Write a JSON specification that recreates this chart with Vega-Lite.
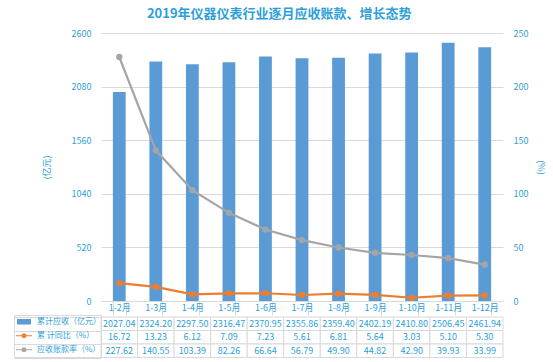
{
  "$schema": "https://vega.github.io/schema/vega-lite/v6.json",
  "padding": {"left": 13, "top": 8, "right": 5, "bottom": 2},
  "title": {"text": "2019年仪器仪表行业逐月应收账款、增长态势", "anchor": "middle", "fontSize": 13, "fontWeight": "bold", "color": "#2E9FD8", "font": "Noto Sans CJK SC", "offset": 8},
  "config": {"view": {"stroke": null}, "font": "Noto Sans CJK SC"},
  "data": {"values": [
    {"m": "1-2月", "ar": 2027.04, "yoy": 16.72, "rate": 227.62},
    {"m": "1-3月", "ar": 2324.20, "yoy": 13.23, "rate": 140.55},
    {"m": "1-4月", "ar": 2297.50, "yoy": 6.12, "rate": 103.39},
    {"m": "1-5月", "ar": 2316.47, "yoy": 7.09, "rate": 82.26},
    {"m": "1-6月", "ar": 2370.95, "yoy": 7.23, "rate": 66.64},
    {"m": "1-7月", "ar": 2355.86, "yoy": 5.61, "rate": 56.79},
    {"m": "1-8月", "ar": 2359.40, "yoy": 6.81, "rate": 49.90},
    {"m": "1-9月", "ar": 2402.19, "yoy": 5.64, "rate": 44.82},
    {"m": "1-10月", "ar": 2410.80, "yoy": 3.03, "rate": 42.90},
    {"m": "1-11月", "ar": 2506.45, "yoy": 5.10, "rate": 39.93},
    {"m": "1-12月", "ar": 2461.94, "yoy": 5.30, "rate": 33.99}
  ]},
  "spacing": 0,
  "resolve": {"scale": {"x": "independent", "y": "independent"}},
  "vconcat": [
    {
      "width": 402,
      "height": 268,
      "encoding": {
        "x": {"field": "m", "type": "nominal", "sort": null, "scale": {"paddingInner": 0.65, "paddingOuter": 0.325},
          "axis": {"title": null, "labelAngle": 0, "labelFontSize": 9, "labelColor": "#2E9FD8", "labelPadding": -12, "labelBaseline": "top",
            "ticks": true, "tickBand": "extent", "tickSize": 14, "tickColor": "#d9d9d9", "domainColor": "#d9d9d9"}}
      },
      "layer": [
        {
          "mark": {"type": "bar"},
          "encoding": {
            "y": {"field": "ar", "type": "quantitative", "scale": {"domain": [0, 2600]},
              "axis": {"values": [0, 520, 1040, 1560, 2080, 2600], "format": "d", "title": "(亿元)", "titleColor": "#2E9FD8", "titleFontSize": 9, "titleFontWeight": "normal", "titlePadding": 20,
                "labelColor": "#2E9FD8", "labelFontSize": 9, "labelPadding": 10, "ticks": false, "domain": false, "grid": true, "gridColor": "#d9d9d9"}},
            "color": {"datum": "ar", "type": "nominal",
              "scale": {"domain": ["ar", "yoy", "rate"], "range": ["#5B9BD5", "#ED7D31", "#A5A5A5"]},
              "legend": {"orient": "none", "legendX": -87, "legendY": 282, "title": null, "padding": 0, "strokeColor": "#d9d9d9",
                "labelFontSize": 8, "labelColor": "#2E9FD8", "labelOffset": 3, "symbolSize": 400, "clipHeight": 13.5, "rowPadding": 0,
                "labelExpr": "datum.label == 'ar' ? '累计应收（亿元）' : datum.label == 'yoy' ? '累 计同比（%）' : '应收账款率（%）'",
                "encode": {"symbols": {"update": {
                  "shape": {"signal": "datum.value == 'ar' ? 'M-0.7,-0.28H0.7V0.28H-0.7Z' : 'M-0.8,-0.06H0.8V0.06H-0.8Z M0.25,0A0.25,0.25 0 1,1 -0.25,0A0.25,0.25 0 1,1 0.25,0Z'"},
                  "fill": {"signal": "datum.value == 'ar' ? '#5B9BD5' : datum.value == 'yoy' ? '#ED7D31' : '#A5A5A5'"},
                  "stroke": {"value": null}, "strokeWidth": {"value": 0}, "opacity": {"value": 1}, "fillOpacity": {"value": 1}}}}}}
          }
        },
        {
          "transform": [{"fold": ["yoy", "rate"], "as": ["k", "v"]}],
          "mark": {"type": "line", "strokeWidth": 2.2, "point": {"filled": true, "size": 40}},
          "encoding": {
            "y": {"field": "v", "type": "quantitative", "scale": {"domain": [0, 250]},
              "axis": {"orient": "right", "values": [0, 50, 100, 150, 200, 250], "title": "(%)", "titleColor": "#2E9FD8", "titleFontSize": 9, "titleFontWeight": "normal", "titlePadding": 8,
                "labelColor": "#2E9FD8", "labelFontSize": 9, "labelPadding": 10, "ticks": false, "domain": false, "grid": false}},
            "color": {"field": "k", "type": "nominal", "title": null}
          }
        }
      ],
      "resolve": {"scale": {"y": "independent"}}
    },
    {
      "width": 402,
      "height": 40.5,
      "transform": [{"fold": ["ar", "yoy", "rate"], "as": ["k", "v"]}],
      "encoding": {
        "x": {"field": "m", "type": "nominal", "sort": null, "scale": {"paddingInner": 0, "paddingOuter": 0}, "axis": null},
        "y": {"field": "k", "type": "nominal", "sort": ["ar", "yoy", "rate"], "scale": {"paddingInner": 0, "paddingOuter": 0},
          "axis": {"title": null, "labels": false, "domain": false, "ticks": true, "tickBand": "extent", "tickSize": 87, "tickColor": "#d9d9d9", "grid": false}}
      },
      "layer": [
        {"mark": {"type": "rect", "fill": "white", "stroke": "#d9d9d9", "strokeWidth": 1}},
        {"mark": {"type": "text", "fontSize": 9, "color": "#2E9FD8"},
          "encoding": {"text": {"field": "v", "type": "quantitative", "format": ".2f"}}}
      ]
    }
  ]
}
